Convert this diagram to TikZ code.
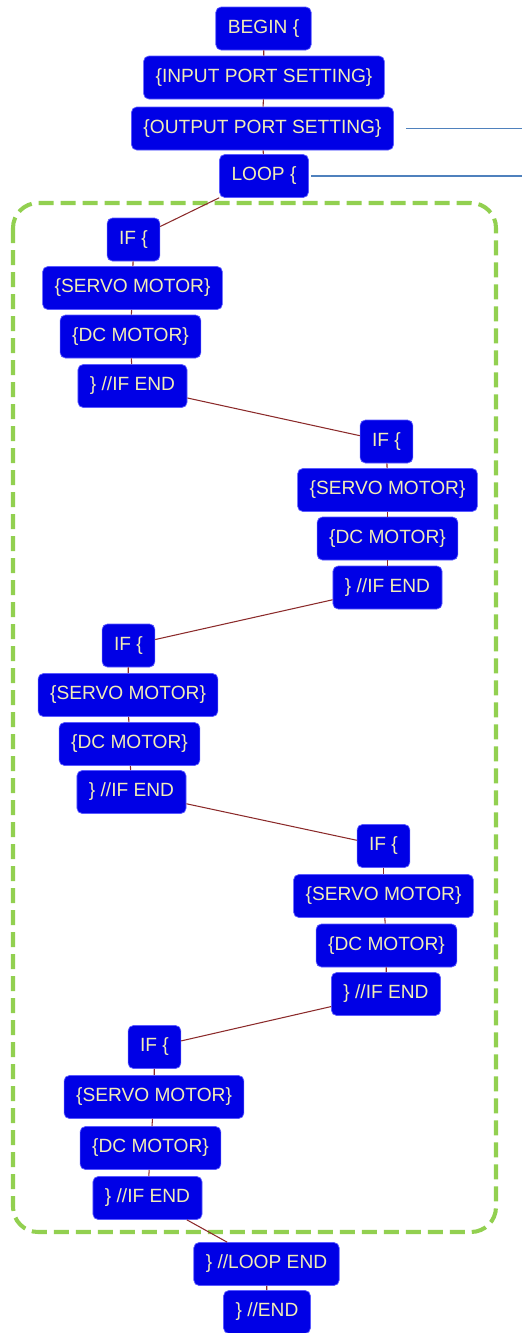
\documentclass[tikz,border=0pt]{standalone}
\usepackage{fontspec}
\setmainfont{Liberation Sans}
\usetikzlibrary{positioning,calc}
\definecolor{fcazul}{HTML}{0000E6}
\definecolor{fcborda}{HTML}{5A5AFF}
\definecolor{fctexto}{HTML}{F2EDB5}
\definecolor{fcmarrom}{HTML}{8B2A2A}
\definecolor{fclinha}{HTML}{4F81BD}
\definecolor{fcverde}{HTML}{92D050}
\tikzset{
  fcbloco/.style={draw=fcborda, fill=fcazul, text=fctexto, rounded corners=3pt, align=center,
                  font=\fontsize{10.9}{12}\selectfont, inner xsep=0.24cm, inner ysep=2pt,
                  minimum height=8.6mm, line width=0.4pt},
  fcliga/.style={draw=fcmarrom, line width=0.6pt},
  fcrisco/.style={draw=fclinha, line width=1.1pt},
  fcgrupo/.style={draw=fcverde, line width=2.3pt, rounded corners=5mm, dash pattern=on 3mm off 1.4mm},
}
\begin{document}
\begin{tikzpicture}
        \useasboundingbox (0,0) rectangle (10.44,-26.66);
        % ---------------- inicio ----------------
        \node[fcbloco] (bg) at (5.27,-0.57) {BEGIN \{};
        \node[fcbloco] (inp) at (5.28,-1.55) {\{INPUT PORT SETTING\}};
        \node[fcbloco] (outp) at (5.25,-2.57) {\{OUTPUT PORT SETTING\}};
        \node[fcbloco] (lp) at (5.28,-3.52) {LOOP \{};
        \coordinate (outtip) at (10.44,-2.62);
        \coordinate (lptip) at (10.44,-3.54);
        % ---------------- bloco do laco ----------------
        \draw[fcgrupo] (0.26,-4.06) rectangle (9.92,-24.64);
        \node[fcbloco] (i1) at (2.67,-4.79) {IF \{};
        \node[fcbloco] (s1) at (2.65,-5.76) {\{SERVO MOTOR\}};
        \node[fcbloco] (d1) at (2.61,-6.73) {\{DC MOTOR\}};
        \node[fcbloco] (e1) at (2.65,-7.72) {\} //IF END};
        \node[fcbloco] (i2) at (7.73,-8.83) {IF \{};
        \node[fcbloco] (s2) at (7.75,-9.80) {\{SERVO MOTOR\}};
        \node[fcbloco] (d2) at (7.75,-10.77) {\{DC MOTOR\}};
        \node[fcbloco] (e2) at (7.75,-11.75) {\} //IF END};
        \node[fcbloco] (i3) at (2.57,-12.91) {IF \{};
        \node[fcbloco] (s3) at (2.56,-13.90) {\{SERVO MOTOR\}};
        \node[fcbloco] (d3) at (2.59,-14.88) {\{DC MOTOR\}};
        \node[fcbloco] (e3) at (2.63,-15.84) {\} //IF END};
        \node[fcbloco] (i4) at (7.67,-16.92) {IF \{};
        \node[fcbloco] (s4) at (7.67,-17.92) {\{SERVO MOTOR\}};
        \node[fcbloco] (d4) at (7.73,-18.91) {\{DC MOTOR\}};
        \node[fcbloco] (e4) at (7.72,-19.88) {\} //IF END};
        \node[fcbloco] (i5) at (3.09,-20.94) {IF \{};
        \node[fcbloco] (s5) at (3.08,-21.94) {\{SERVO MOTOR\}};
        \node[fcbloco] (d5) at (3.01,-22.96) {\{DC MOTOR\}};
        \node[fcbloco] (e5) at (2.95,-23.96) {\} //IF END};
        % ---------------- fim ----------------
        \node[fcbloco] (le) at (5.33,-25.28) {\} //LOOP END};
        \node[fcbloco] (fim) at (5.34,-26.24) {\} //END};
        % ligacoes
        \draw[fcliga] (bg) -- (inp);
        \draw[fcliga] (inp) -- (outp);
        \draw[fcliga] (outp) -- (lp);
        \draw[fcliga] (lp) -- (i1);
        \foreach \i in {1,...,5} {\draw[fcliga] (i\i) -- (s\i); \draw[fcliga] (s\i) -- (d\i); \draw[fcliga] (d\i) -- (e\i);}
        \draw[fcliga] (e1) -- (i2);
        \draw[fcliga] (e2) -- (i3);
        \draw[fcliga] (e3) -- (i4);
        \draw[fcliga] (e4) -- (i5);
        \draw[fcliga] (e5) -- (le);
        \draw[fcliga] (le) -- (fim);
        \draw[fcrisco] ([xshift=2.4mm]outp.east) -- (outp.east -| outtip);
        \draw[fcrisco] ([xshift=0.4mm]lp.east) -- (lp.east -| lptip);
    \end{tikzpicture}
\end{document}
